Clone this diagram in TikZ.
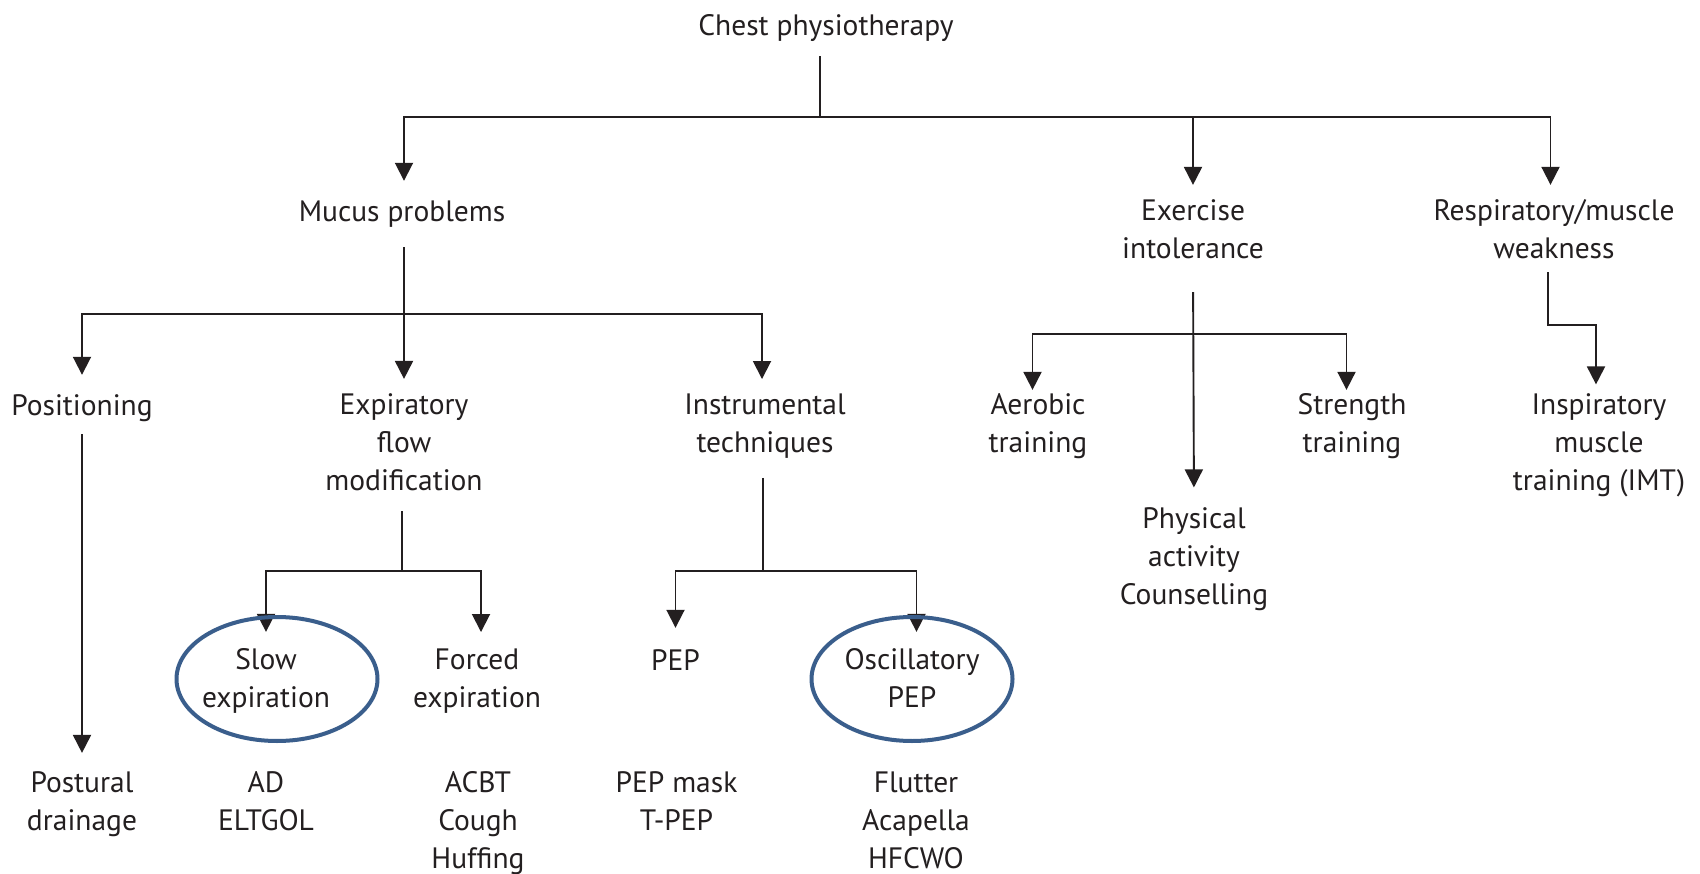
\documentclass[tikz,border=0pt]{standalone}
\usepackage{fontspec}
\setmainfont{PT Sans}
\usetikzlibrary{arrows.meta}
\definecolor{ink}{HTML}{231F20}
\definecolor{ringblue}{HTML}{3A5E8C}
% line strut: 38pt tall, sitting low so the text lies a little below the box centre
\newcommand{\lblstrut}{\rule[-8.9pt]{0pt}{38pt}}
\tikzset{
  lbl/.style={align=center, inner sep=0pt, text=ink,
    font=\fontsize{29.5}{38}\selectfont,
    execute at begin node=\lblstrut, execute at end node=\lblstrut},
  conn/.style={draw=ink, line width=1.9pt},
  arr/.style={conn, -{Triangle[width=18pt,length=18pt]}},
  ring/.style={draw=ringblue, line width=4pt}
}
\begin{document}
\begin{tikzpicture}[x=1pt,y=-1pt]
\useasboundingbox (0,0) rectangle (1700,874);
\fill[white] (0,0) rectangle (1700,874);

% labels
\node[lbl] (chest) at (826,25) {Chest physiotherapy};
\node[lbl] (mucus) at (402,211) {Mucus problems};
\node[lbl] (exer) at (1193,233.3) {Exercise\\intolerance};
\node[lbl] (resp) at (1554,233.3) {Respiratory/muscle\\weakness};
\node[lbl] (pos) at (82,405) {Positioning};
\node[lbl] (efm) at (404,446.3) {Expiratory\\flow\\modification};
\node[lbl] (instr) at (765,427.3) {Instrumental\\techniques};
\node[lbl] (aer) at (1038,427.3) {Aerobic\\training};
\node[lbl] (str) at (1352,427.3) {Strength\\training};
\node[lbl] (imt) at (1599,446.3) {Inspiratory\\muscle\\training (IMT)};
\node[lbl] (pac) at (1194,560.3) {Physical\\activity\\Counselling};
\node[lbl] (post) at (82,805.3) {Postural\\drainage};
\node[lbl] (slow) at (266,682.3) {Slow\\expiration};
\node[lbl] (forced) at (477,682.3) {Forced\\expiration};
\node[lbl] (pep) at (675.5,660) {PEP};
\node[lbl] (osc) at (912,682.3) {Oscillatory\\PEP};
\node[lbl] (ad) at (266,805.3) {AD\\ELTGOL};
\node[lbl] (acbt) at (478,824.3) {ACBT\\Cough\\Huffing};
\node[lbl] (mask) at (676.5,805.3) {PEP mask\\T-PEP};
\node[lbl] (flut) at (916,824.3) {Flutter\\Acapella\\HFCWO};

% junctions of the branching lines
\coordinate (j0) at (820,117);
\coordinate (j1) at (404,314);
\coordinate (j2) at (402,571);
\coordinate (j3) at (763,571);
\coordinate (j4) at (1193,334);
\coordinate (j5) at (1548,325);

% chest physiotherapy
\draw[conn] ([xshift=-6pt,yshift=-12pt]chest.south) -- (j0);
\draw[arr, shorten >=11pt] (j0) -| ([xshift=2pt]mucus.north);
\draw[arr, shorten >=14.3pt] (j0) -| (exer.north);
\draw[arr, shorten >=14.3pt] (j0) -| ([xshift=-3.5pt]resp.north);

% mucus problems
\draw[conn] ([xshift=2pt,yshift=-17pt]mucus.south) -- (j1);
\draw[arr, shorten >=11pt] (j1) -| (pos.north);
\draw[arr, shorten >=14.3pt] (j1) -- (efm.north);
\draw[arr, shorten >=14.3pt] (j1) -| ([xshift=-3pt]instr.north);
\draw[arr, shorten <=10pt, shorten >=18.3pt] (pos.south) -- (post.north);

% expiratory flow modification
\draw[conn] ([xshift=-2pt,yshift=-11.7pt]efm.south) -- (j2);
\draw[arr, shorten >=16.3pt] (j2) -| (slow.north);
\draw[arr, shorten >=16.3pt] (j2) -| ([xshift=4pt]forced.north);

% instrumental techniques
\draw[conn] ([xshift=-2pt,yshift=-16.7pt]instr.south) -- (j3);
\draw[arr, shorten >=13pt] (j3) -| (pep.north);
\draw[arr, shorten >=16.3pt] (j3) -| ([xshift=4.5pt]osc.north);

% exercise intolerance
\draw[arr, shorten <=24.7pt, shorten >=19.8pt] (exer.south) -- (pac.north);
\draw[arr, shorten >=3.3pt] (j4) -| ([xshift=-5.5pt]aer.north);
\draw[arr, shorten >=3.3pt] (j4) -| ([xshift=-5.5pt]str.north);

% respiratory/muscle weakness
\draw[arr, shorten >=8.8pt] ([xshift=-6pt,yshift=-4.7pt]resp.south) -- (j5) -| ([xshift=-3pt]imt.north);

% highlighted techniques
\draw[ring] ([xshift=11pt,yshift=3.3pt]slow.center) ellipse [x radius=100.5pt, y radius=62pt];
\draw[ring] ([yshift=3.3pt]osc.center) ellipse [x radius=100.5pt, y radius=62pt];
\end{tikzpicture}
\end{document}
